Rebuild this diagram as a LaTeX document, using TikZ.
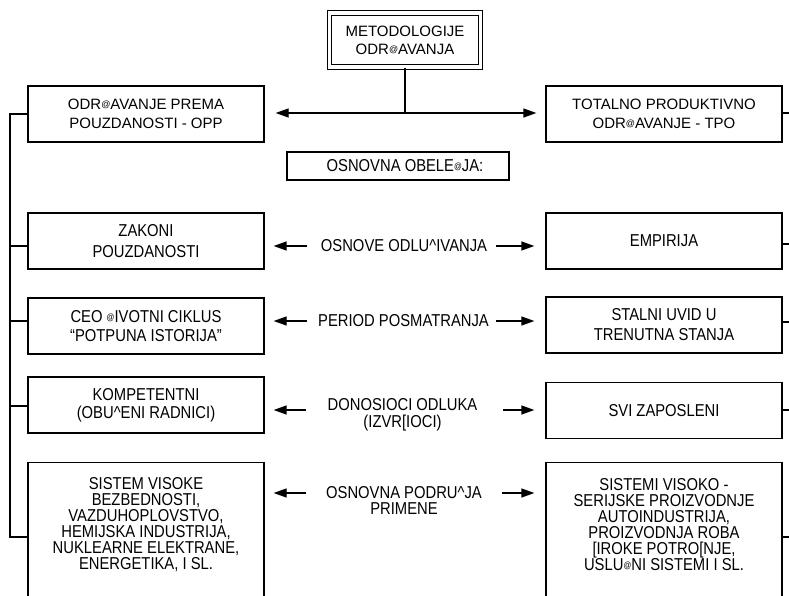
\documentclass[tikz,border=0pt]{standalone}
\usepackage{fontspec}
\setmainfont{Liberation Sans}
\newfontfamily\fN[FakeStretch=0.86]{Liberation Sans}
\usetikzlibrary{arrows.meta}
\newcommand\zat{\raisebox{0.12em}{\fontsize{9}{9}\selectfont @}}
\newcommand\zc{\textasciicircum}
\begin{document}
\begin{tikzpicture}[x=1pt,y=-1pt,
  ln/.style={line width=1.3pt},
  arr/.style={line width=1.3pt,-{Triangle[length=13pt,width=9pt]}},
  bx/.style={draw,line width=1.3pt,minimum width=236pt,minimum height=56pt,align=center,inner sep=0pt},
  fa/.style={font=\fontsize{15}{19}\selectfont},
  fn/.style={font=\fN\fontsize{17.2}{#1}\selectfont},
  fn/.default=18,
  lbl/.style={align=center,inner sep=0pt}
]
\useasboundingbox (0,0) rectangle (789,596);
% top
\node[draw,double,double distance=3.2pt,line width=1.3pt,minimum width=151pt,minimum height=54pt,align=center,inner sep=0pt,fa,font=\fontsize{15}{18}\selectfont] (top) at (405,40) {METODOLOGIJE\\ODR\zat AVANJA};
\node[bx,fa] (opp) at (146,114) {ODR\zat AVANJE PREMA\\POUZDANOSTI - OPP};
\node[bx,fa] (tpo) at (664,114) {TOTALNO PRODUKTIVNO\\ODR\zat AVANJE - TPO};
\coordinate (jn) at (405,113);
\draw[ln] (top.south) -- (jn);
\draw[arr,shorten >=11pt] (jn) -- (jn -| opp.east);
\draw[arr,shorten >=9pt] (jn) -- (jn -| tpo.west);
\node[draw,line width=1.2pt,minimum width=222pt,minimum height=28pt,inner sep=0pt,fn] (obel) at (398,166) {\hspace*{14pt}OSNOVNA OBELE\zat JA:};
% left boxes
\node[bx,fn=21] (zak) at (146,241) {ZAKONI\\POUZDANOSTI};
\node[bx,fn=19] (ceo) at (146,326) {CEO \zat IVOTNI CIKLUS\\“POTPUNA ISTORIJA”};
\node[bx,fn=18] (komp) at (146,405) {KOMPETENTNI\\(OBU\zc ENI RADNICI)};
\node[draw,line width=1.3pt,minimum width=236pt,minimum height=150pt,anchor=north,inner sep=0pt] (sisb) at (146,462) {};
\node[lbl,fn=16] (sis) at (146,524.5) {SISTEM VISOKE\\BEZBEDNOSTI,\\VAZDUHOPLOVSTVO,\\HEMIJSKA INDUSTRIJA,\\NUKLEARNE ELEKTRANE,\\ENERGETIKA, I SL.};
% right boxes
\node[bx,fn] (emp) at (664,241) {EMPIRIJA};
\node[bx,fn=20] (stal) at (664,325) {STALNI UVID U\\TRENUTNA STANJA};
\node[bx,fn] (svi) at (664,410.5) {SVI ZAPOSLENI};
\node[draw,line width=1.3pt,minimum width=236pt,minimum height=150pt,anchor=north,inner sep=0pt] (sisrb) at (664,462) {};
\node[lbl,fn=16] (sisr) at (664,524.5) {SISTEMI VISOKO -\\SERIJSKE PROIZVODNJE\\AUTOINDUSTRIJA,\\PROIZVODNJA ROBA\\{}[IROKE POTRO[NJE,\\USLU\zat NI SISTEMI I SL.};
% middle labels
\node[lbl,fn] (m1) at (404,246) {OSNOVE ODLU\zc IVANJA};
\node[lbl,fn] (m2) at (403.5,321) {PERIOD POSMATRANJA};
\node[lbl,fn=17] (m3) at (402.5,414.5) {DONOSIOCI ODLUKA\\(IZVR[IOCI)};
\node[lbl,fn=16] (m4) at (404,500) {OSNOVNA PODRU\zc JA\\PRIMENE};
% row arrows
\coordinate (a1l) at (307,246); \coordinate (a1r) at (496,246);
\coordinate (a2l) at (307,321); \coordinate (a2r) at (496,321);
\coordinate (a3l) at (306,410); \coordinate (a3r) at (503,410);
\coordinate (a4l) at (306,493); \coordinate (a4r) at (502,493);
\draw[arr,shorten >=9pt] (a1l) -- (a1l -| zak.east);
\draw[arr,shorten >=11pt] (a1r) -- (a1r -| emp.west);
\draw[arr,shorten >=9pt] (a2l) -- (a2l -| ceo.east);
\draw[arr,shorten >=11pt] (a2r) -- (a2r -| stal.west);
\draw[arr,shorten >=9pt] (a3l) -- (a3l -| komp.east);
\draw[arr,shorten >=11pt] (a3r) -- (a3r -| svi.west);
\draw[arr,shorten >=9pt] (a4l) -- (a4l -| sisb.east);
\draw[arr,shorten >=11pt] (a4r) -- (a4r -| sisrb.west);
% left bus
\coordinate (bt) at (10,114);
\coordinate (b2) at (10,246);
\coordinate (b3) at (10,321);
\coordinate (b4) at (10,406);
\coordinate (bb) at (10,537);
\draw[ln] (opp.west) -- (bt) -- (bb) -- (bb -| sisb.west);
\draw[ln] (b2) -- (b2 -| zak.west);
\draw[ln] (b3) -- (b3 -| ceo.west);
\draw[ln] (b4) -- (b4 -| komp.west);
% right stubs
\coordinate (r1) at (795,113);
\coordinate (r2) at (795,244);
\coordinate (r3) at (795,322);
\coordinate (r4) at (795,410);
\coordinate (r5) at (795,537);
\draw[ln] (r1 -| tpo.east) -- (r1);
\draw[ln] (r2 -| emp.east) -- (r2);
\draw[ln] (r3 -| stal.east) -- (r3);
\draw[ln] (r4 -| svi.east) -- (r4);
\draw[ln] (r5 -| sisrb.east) -- (r5);
\end{tikzpicture}
\end{document}
